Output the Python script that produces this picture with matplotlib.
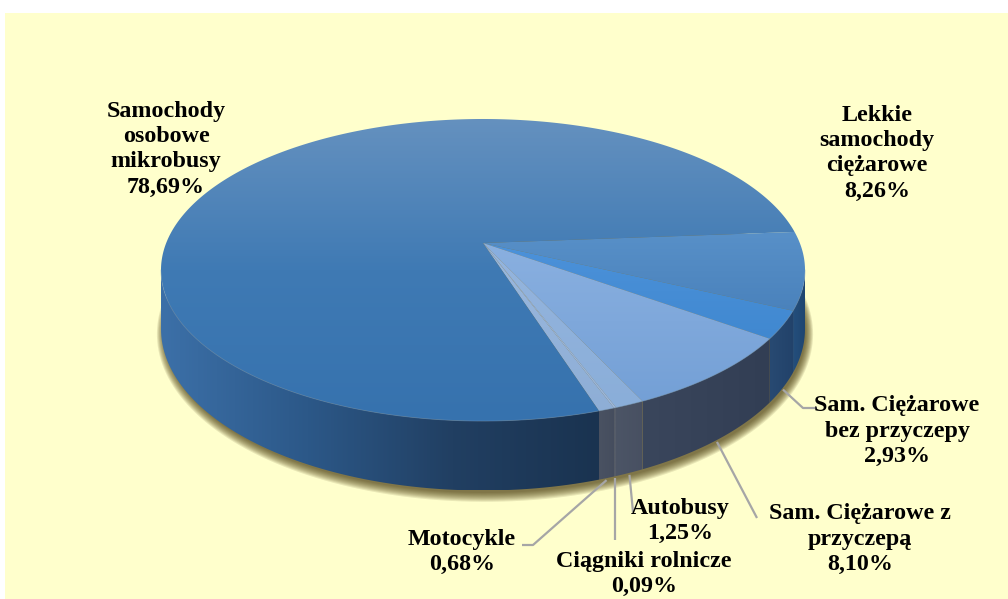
import numpy as np
import matplotlib
matplotlib.use("Agg")
import matplotlib.pyplot as plt
from matplotlib.patches import Polygon, Rectangle
from matplotlib.colors import LinearSegmentedColormap

# ---------------- data ----------------
categories = ["Lekkie samochody ciężarowe", "Sam. Ciężarowe bez przyczepy",
              "Sam. Ciężarowe z przyczepą", "Autobusy", "Ciągniki rolnicze",
              "Motocykle", "Samochody osobowe mikrobusy"]
shares = [8.26, 2.93, 8.10, 1.25, 0.09, 0.68, 78.69]
label_names = ["Lekkie\nsamochody\nciężarowe", "Sam. Ciężarowe\nbez przyczepy",
               "Sam. Ciężarowe z\nprzyczepą", "Autobusy", "Ciągniki rolnicze",
               "Motocykle", "Samochody\nosobowe\nmikrobusy"]

# ---------------- style ----------------
top_colors = [["#5890c8", "#4a82bc"], ["#4c92da", "#4088d0"], ["#8ab0e0", "#74a0d6"],
              ["#95b5de", "#8aaed9"], ["#a0bce0", "#9ab6dc"], ["#9ab8de", "#8eaed6"],
              ["#6591bf", "#3f7ab4", "#3672ae"]]
wall_colors = [["#244e7c", "#1f4670"], ["#284a72", "#22426a"], ["#3a465c", "#323e54"],
               ["#4c5566", "#485062"], ["#555c6a", "#555c6a"], ["#4a5262", "#454d5e"],
               ["#3c70a8", "#2c5888", "#213f62", "#1a3350"]]
label_pos = [(877, 153), (897, 431), (860, 539), (680, 521), (644, 574), (462, 552), (166, 149)]
leader_ends = [None, [(803, 408), (817, 408)], [(757, 518)], [(633, 512)],
               [(None, 540)], [(533, 545), (522, 545)], None]

W, H = 1008, 599
CX, CY0 = 483, 243          # projected centre of the pie top
AX_, BY_ = 316.8, 146.2     # half axes before perspective
KP = 0.179                  # perspective strength
DEPTH = 57
START = 4.4

fig = plt.figure(figsize=(W / 100, H / 100), dpi=100, facecolor="white")
ax = fig.add_axes([0, 0, 1, 1])
ax.set_axis_off()

ax.add_patch(Rectangle((5, 13), W - 5, H - 13, facecolor="#ffffcc", edgecolor="none", zorder=0))


def pt(t, bottom=False, grow=0.0):
    r = np.deg2rad(np.atleast_1d(t))
    u, w = np.cos(r), np.sin(r)
    s = 1.0 / (1.0 + KP * w)
    x = CX + (AX_ + grow) * u * s
    y = CY0 - (BY_ + grow) * w * s + (DEPTH * s if bottom else 0.0)
    return np.column_stack([x, y])


def grad_fill(verts, stops, axis="y", zorder=2):
    verts = np.asarray(verts)
    poly = Polygon(verts, closed=True, facecolor="none", edgecolor="none", zorder=zorder)
    ax.add_patch(poly)
    x0, x1 = verts[:, 0].min(), verts[:, 0].max()
    y0, y1 = verts[:, 1].min(), verts[:, 1].max()
    cmap = LinearSegmentedColormap.from_list("g", stops)
    if axis == "y":
        data = np.linspace(0, 1, 256).reshape(-1, 1)
    else:
        data = np.linspace(0, 1, 256).reshape(1, -1)
    im = ax.imshow(data, cmap=cmap, extent=(x0, x1, y1, y0), origin="upper",
                   aspect="auto", interpolation="bilinear", zorder=zorder)
    im.set_clip_path(poly)


# shadow (soft, offset down-right)
full = np.linspace(0, 360, 240)
for k in range(9):
    g = 6 - k * 0.9
    sh = pt(full, bottom=True, grow=g)
    sh[:, 0] += 2
    sh[:, 1] += 4
    ax.add_patch(Polygon(sh, closed=True, facecolor="#4a3c10", edgecolor="none",
                         alpha=0.12, zorder=1))

total = sum(shares)
angles = []
cur = START
for s in shares:
    span = s / total * 360.0
    angles.append((cur, cur - span))
    cur -= span

# visible wall range (silhouette under perspective)
tlim = np.rad2deg(np.arcsin(KP))
VIS_LO, VIS_HI = -180 + tlim, -tlim

for i, (ts, te) in enumerate(angles):
    for k in (-1, 0, 1):
        lo, hi = VIS_LO + 360 * k, VIS_HI + 360 * k
        a0, a1 = max(te, lo), min(ts, hi)
        if a1 - a0 > 0.01:
            tt = np.linspace(a1, a0, 80)
            topa = pt(tt)
            bota = pt(tt[::-1], bottom=True)
            grad_fill(np.vstack([topa, bota]), wall_colors[i], axis="x", zorder=3)

# top faces
for i, (ts, te) in enumerate(angles):
    tt = np.linspace(ts, te, max(4, int(abs(ts - te) * 2)))
    verts = np.vstack([[(CX, CY0)], pt(tt)])
    grad_fill(verts, top_colors[i], axis="y", zorder=4)

# faint rim between top and wall
e = pt(np.linspace(VIS_LO, VIS_HI, 200))
ax.plot(e[:, 0], e[:, 1], color="#6e94bd", lw=0.6, alpha=0.5, zorder=5)

# labels
fp = dict(family=["Liberation Serif", "DejaVu Serif"], fontweight="bold", fontsize=17.3,
          ha="center", va="center", linespacing=1.27, color="black", zorder=7)
for i, (ts, te) in enumerate(angles):
    txt = label_names[i] + "\n" + f"{shares[i]:.2f}".replace(".", ",") + "%"
    ax.text(label_pos[i][0], label_pos[i][1], txt, **fp)
    if leader_ends[i] is not None:
        mid = (ts + te) / 2
        p = pt(mid, bottom=True)[0]
        xs, ys = [p[0]], [p[1] + 2]
        for (ex, ey) in leader_ends[i]:
            xs.append(p[0] if ex is None else ex)
            ys.append(ey)
        ax.plot(xs, ys, color="#a6a6a6", lw=1.6, zorder=6, solid_capstyle="butt")

ax.set_xlim(0, W)
ax.set_ylim(H, 0)
fig.savefig("out.png", dpi=100, facecolor="white")
